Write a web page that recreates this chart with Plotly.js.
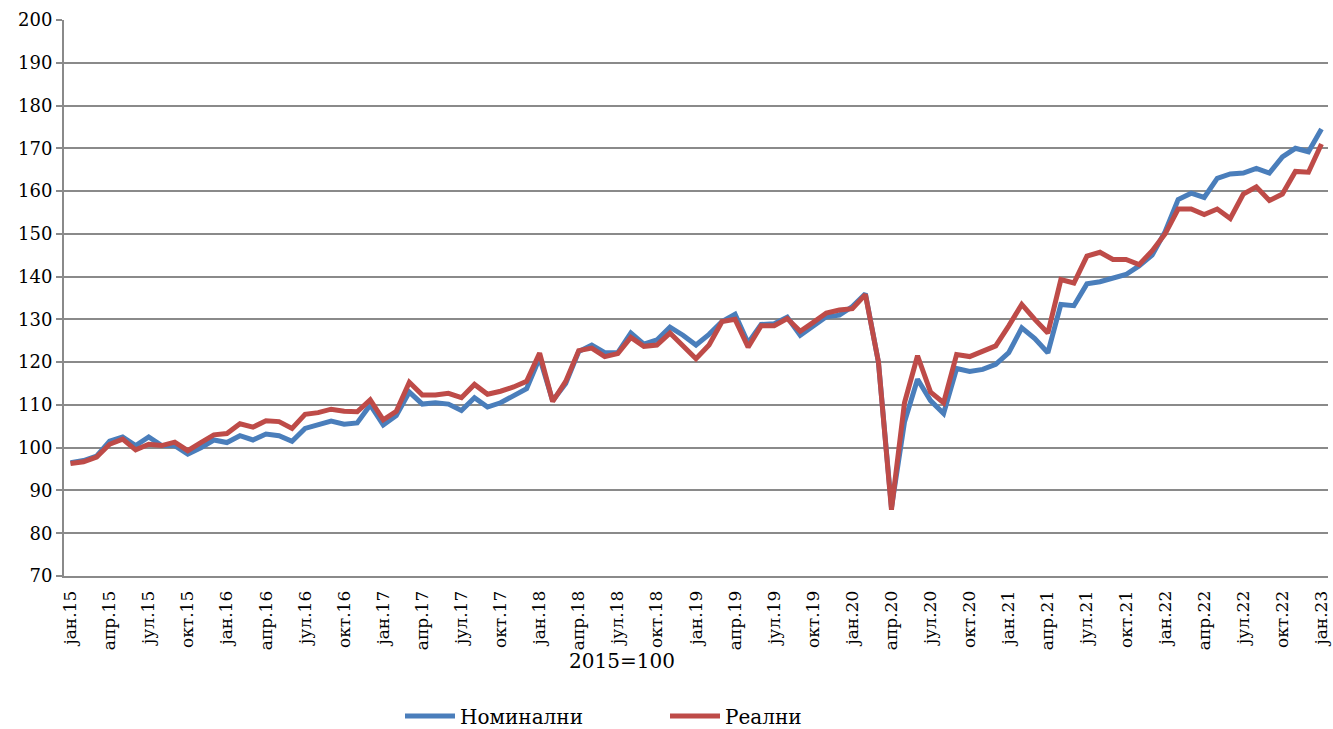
<!DOCTYPE html>
<html>
<head>
<meta charset="utf-8">
<script src="https://cdn.plot.ly/plotly-3.0.1.min.js"></script>
<style>html,body{margin:0;padding:0;background:#fff;}#chart{width:1333px;height:729px;}</style>
</head>
<body>
<div id="chart"></div>
<script>
// Monthly index, jan.15 .. jan.23 (97 months), 2015=100
const tickLabels = ["јан.15","апр.15","јул.15","окт.15","јан.16","апр.16","јул.16","окт.16",
  "јан.17","апр.17","јул.17","окт.17","јан.18","апр.18","јул.18","окт.18",
  "јан.19","апр.19","јул.19","окт.19","јан.20","апр.20","јул.20","окт.20",
  "јан.21","апр.21","јул.21","окт.21","јан.22","апр.22","јул.22","окт.22","јан.23"];

const nominal = [
  96.5, 97.0, 98.0, 101.5, 102.5, 100.5, 102.5, 100.5, 100.5, 98.5, 100.0, 101.8,
  101.2, 102.8, 101.8, 103.2, 102.8, 101.5, 104.5, 105.2, 106.2, 105.5, 105.8, 110.0,
  105.3, 107.5, 113.0, 110.2, 110.5, 110.2, 108.7, 111.7, 109.5, 110.5, 112.0, 113.8,
  121.0, 111.0, 115.0, 122.5, 124.0, 122.2, 122.2, 126.8, 124.2, 125.2, 128.2, 126.3,
  124.0, 126.5, 129.5, 131.2, 124.5, 128.8, 129.0, 130.5, 126.3, 128.5, 130.6, 131.0,
  133.0, 136.0, 120.0, 86.0, 106.0, 116.0, 111.0, 108.0, 118.5, 117.8, 118.3, 119.5,
  122.2, 128.0, 125.5, 122.2, 133.5, 133.2, 138.3, 138.8, 139.8, 140.5, 142.5, 145.0,
  150.5, 158.0, 159.5, 158.5, 163.0, 164.0, 164.2, 165.3, 164.2, 168.0, 170.0, 169.2,
  174.5];

const real = [
  96.3, 96.7, 97.8, 100.8, 102.0, 99.5, 100.8, 100.5, 101.3, 99.3, 101.2, 103.0,
  103.3, 105.6, 104.8, 106.3, 106.1, 104.5, 107.8, 108.2, 109.0, 108.5, 108.4, 111.2,
  106.5, 108.5, 115.3, 112.3, 112.3, 112.7, 111.7, 114.8, 112.5, 113.2, 114.2, 115.5,
  122.1, 110.8, 115.5, 122.7, 123.3, 121.3, 122.0, 125.8, 123.7, 124.0, 126.8, 123.8,
  120.8, 124.0, 129.5, 130.0, 123.5, 128.5, 128.5, 130.2, 127.2, 129.3, 131.5, 132.2,
  132.5, 135.8, 120.0, 85.5, 110.5, 121.5, 113.0, 110.5, 121.8, 121.3, 122.5, 123.8,
  128.5, 133.5, 130.0, 126.8, 139.3, 138.5, 144.8, 145.7, 144.0, 144.0, 142.8, 146.0,
  150.0, 155.8, 155.8, 154.5, 155.8, 153.6, 159.3, 161.0, 157.8, 159.3, 164.6, 164.4,
  171.0];

const seriesNames = ["Номинални", "Реални"];
const baseLabel = "2015=100";

const idx = nominal.map((_, i) => i);
const labelPos = tickLabels.map((_, k) => k * 3);
const tickPos = tickLabels.map((_, k) => k * 3 - 0.5);

const font = "DejaVu Serif";
const gridC = "#8a8a8a";

const traces = [
  {x: idx, y: nominal, name: seriesNames[0], type: "scatter", mode: "lines",
   line: {color: "#4a7ebb", width: 5}},
  {x: idx, y: real, name: seriesNames[1], type: "scatter", mode: "lines",
   line: {color: "#be4b48", width: 5}}
];

const layout = {
  width: 1333, height: 729,
  margin: {l: 64, r: 5, t: 20, b: 153, autoexpand: false},
  paper_bgcolor: "#fff", plot_bgcolor: "#fff",
  font: {family: font, color: "#000", size: 18},
  showlegend: true,
  title: {text: baseLabel, font: {family: font, size: 20, color: "#000"},
          x: 622/1333, xanchor: "center", xref: "container",
          y: (729-661)/729, yanchor: "middle", yref: "container"},
  legend: {orientation: "h", x: 400/1333, xanchor: "left", xref: "container",
           y: (729-716)/729, yanchor: "middle", yref: "container",
           font: {family: font, size: 20, color: "#000"},
           entrywidth: 200, entrywidthmode: "pixels", itemwidth: 50},
  xaxis: {range: [-0.5, 96.5], tickmode: "array", tickvals: labelPos, ticktext: tickLabels,
          tickangle: -90, ticks: "outside", ticklen: 6, tickcolor: "rgba(0,0,0,0)",
          showgrid: false, zeroline: false, automargin: false, ticklabeloverflow: "allow",
          showline: true, linecolor: gridC, linewidth: 2,
          tickfont: {family: font, size: 17, color: "#000"}, fixedrange: true},
  xaxis2: {range: [-0.5, 96.5], overlaying: "x", anchor: "y", side: "bottom",
           tickmode: "array", tickvals: tickPos, showticklabels: false,
           ticks: "outside", ticklen: 8, tickwidth: 2, tickcolor: gridC,
           showgrid: false, zeroline: false, showline: false},
  yaxis: {range: [70, 200], tickmode: "linear", tick0: 70, dtick: 10, automargin: false,
          ticks: "outside", ticklen: 6, tickwidth: 2, tickcolor: gridC,
          showgrid: true, gridcolor: gridC, gridwidth: 2,
          showline: true, linecolor: gridC, linewidth: 2, zeroline: false,
          tickfont: {family: font, size: 18, color: "#000"}, fixedrange: true}
};

Plotly.newPlot("chart", traces, layout, {displayModeBar: false, staticPlot: true});
</script>
</body>
</html>
